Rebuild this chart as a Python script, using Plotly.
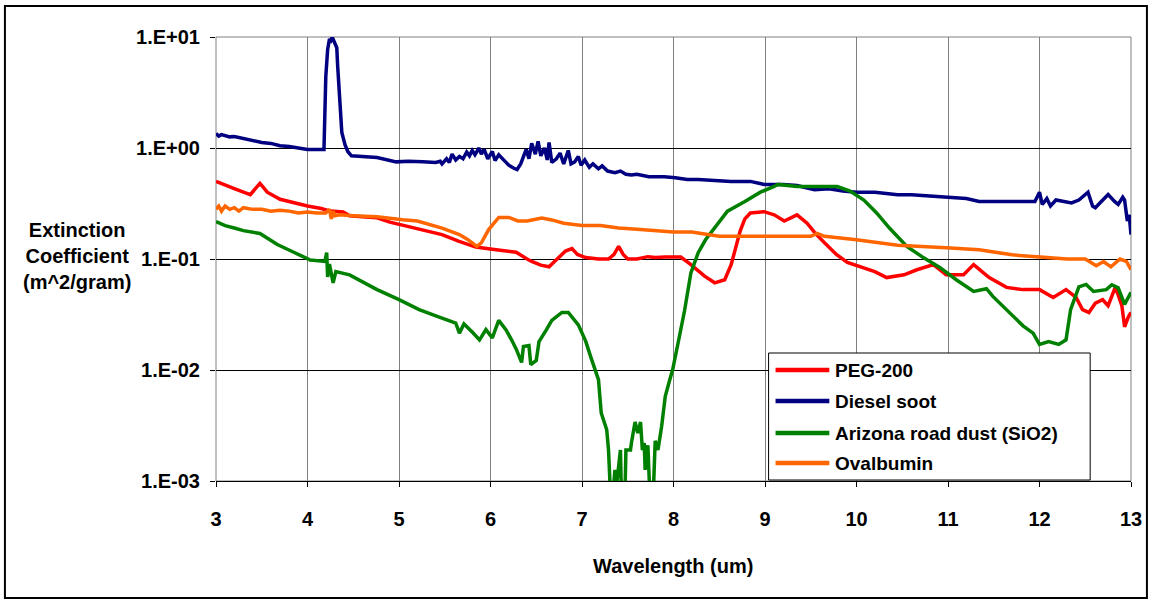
import plotly.graph_objects as go

# Extinction spectra, wavelength in um, coefficient in m^2/gram
peg_wl = [3.00, 3.10, 3.20, 3.30, 3.375, 3.43, 3.48, 3.52, 3.56, 3.70, 3.85, 4.00, 4.15, 4.25, 4.39, 4.46,
          4.60, 4.76, 4.90, 5.00, 5.11, 5.30, 5.47, 5.65, 5.84, 6.00, 6.09, 6.28, 6.40, 6.45, 6.55, 6.64,
          6.70, 6.75, 6.82, 6.89, 6.95, 7.04, 7.18, 7.29, 7.35, 7.40, 7.45, 7.50, 7.60, 7.72, 7.80, 7.91,
          8.08, 8.19, 8.34, 8.45, 8.56, 8.63, 8.68, 8.73, 8.78, 8.84, 8.99, 9.10, 9.21, 9.35, 9.46, 9.55,
          9.65, 9.78, 9.90, 10.08, 10.20, 10.33, 10.52, 10.66, 10.84, 10.98, 11.17, 11.28, 11.45, 11.64,
          11.82, 12.00, 12.15, 12.29, 12.40, 12.47, 12.54, 12.61, 12.69, 12.75, 12.83, 12.90, 12.93, 12.97,
          13.00]
peg_k = [0.50, 0.46, 0.43, 0.40, 0.38, 0.43, 0.48, 0.44, 0.40, 0.345, 0.32, 0.30, 0.285, 0.27, 0.265, 0.245,
         0.24, 0.235, 0.215, 0.205, 0.197, 0.18, 0.166, 0.145, 0.128, 0.123, 0.121, 0.115, 0.10, 0.095, 0.088, 0.085,
         0.095, 0.105, 0.118, 0.124, 0.11, 0.103, 0.10, 0.10, 0.11, 0.13, 0.11, 0.10, 0.10, 0.105, 0.103, 0.104,
         0.104, 0.089, 0.07, 0.061, 0.065, 0.089, 0.13, 0.18, 0.23, 0.26, 0.267, 0.25, 0.22, 0.25, 0.21, 0.17,
         0.14, 0.11, 0.093, 0.083, 0.077, 0.068, 0.072, 0.08, 0.089, 0.072, 0.072, 0.089, 0.068, 0.0555,
         0.053, 0.053, 0.045, 0.053, 0.045, 0.035, 0.033, 0.04, 0.043, 0.038, 0.056, 0.038, 0.0245, 0.03,
         0.033]

soot_wl = [3.00, 3.03, 3.06, 3.10, 3.15, 3.20, 3.30, 3.40, 3.50, 3.60,
           3.70, 3.80, 3.90, 4.00, 4.10, 4.18, 4.20, 4.22, 4.24, 4.255,
           4.27, 4.29, 4.32, 4.33, 4.35, 4.375, 4.41, 4.44, 4.48, 4.60,
           4.76, 4.97, 5.10, 5.26, 5.40, 5.45, 5.47, 5.52, 5.55, 5.58,
           5.62, 5.66, 5.70, 5.74, 5.77, 5.80, 5.83, 5.875, 5.90, 5.93,
           5.97, 6.02, 6.05, 6.09, 6.13, 6.20, 6.25, 6.29, 6.33, 6.36,
           6.39, 6.42, 6.45, 6.49, 6.52, 6.55, 6.59, 6.62, 6.64, 6.67,
           6.72, 6.76, 6.80, 6.85, 6.88, 6.92, 6.96, 6.99, 7.03, 7.08,
           7.12, 7.18, 7.22, 7.28, 7.36, 7.42, 7.48, 7.54, 7.60, 7.73,
           7.90, 8.02, 8.15, 8.27, 8.45, 8.63, 8.84, 8.99, 9.20, 9.35,
           9.54, 9.70, 9.85, 10.00, 10.20, 10.45, 10.60, 10.80, 10.98, 11.20,
           11.34, 11.50, 11.70, 11.89, 11.95, 12.00, 12.03, 12.08, 12.12, 12.18,
           12.26, 12.35, 12.43, 12.53, 12.58, 12.61, 12.66, 12.75, 12.82, 12.86,
           12.91, 12.93, 12.96, 12.98, 13.00]
soot_k = [1.35, 1.28, 1.32, 1.30, 1.26, 1.27, 1.22, 1.18, 1.12, 1.10,
          1.05, 1.03, 1.00, 0.97, 0.97, 0.97, 4.4, 7.7, 9.6, 9.3,
          10.0, 9.1, 8.0, 5.4, 2.7, 1.38, 1.07, 0.93, 0.85, 0.84,
          0.82, 0.75, 0.76, 0.75, 0.74, 0.76, 0.72, 0.80, 0.74, 0.88,
          0.78, 0.84, 0.80, 0.92, 0.85, 0.95, 0.87, 1.0, 0.88, 0.97,
          0.80, 0.93, 0.77, 0.87, 0.80, 0.70, 0.66, 0.64, 0.72, 0.85,
          0.97, 0.80, 1.10, 0.88, 1.15, 0.85, 1.0, 0.78, 1.12, 0.74,
          0.80, 0.90, 0.72, 0.95, 0.72, 0.75, 0.84, 0.70, 0.78, 0.67,
          0.72, 0.65, 0.69, 0.62, 0.60, 0.62, 0.58, 0.57, 0.58, 0.55,
          0.55, 0.54, 0.52, 0.52, 0.51, 0.50, 0.50, 0.47, 0.47, 0.46,
          0.42, 0.43, 0.41, 0.40, 0.40, 0.38, 0.38, 0.37, 0.36, 0.35,
          0.33, 0.33, 0.33, 0.33, 0.33, 0.40, 0.31, 0.35, 0.30, 0.34,
          0.33, 0.32, 0.34, 0.40, 0.30, 0.29, 0.32, 0.38, 0.33, 0.31,
          0.36, 0.34, 0.22, 0.25, 0.166]

dust_wl = [3.00, 3.10, 3.20, 3.30, 3.48, 3.67, 3.85, 4.03, 4.19, 4.21,
           4.22, 4.24, 4.28, 4.31, 4.46, 4.60, 4.76, 5.00, 5.22, 5.44,
           5.55, 5.62, 5.66, 5.71, 5.80, 5.88, 5.95, 6.02, 6.09, 6.17,
           6.23, 6.28, 6.34, 6.36, 6.42, 6.44, 6.50, 6.53, 6.61, 6.67,
           6.78, 6.85, 6.96, 7.04, 7.10, 7.18, 7.21, 7.27, 7.29, 7.31,
           7.34, 7.36, 7.37, 7.42, 7.43, 7.47, 7.48, 7.53, 7.54, 7.58,
           7.61, 7.64, 7.66, 7.68, 7.69, 7.72, 7.74, 7.78, 7.80, 7.83,
           7.87, 7.91, 7.96, 7.99, 8.05, 8.12, 8.19, 8.27, 8.35, 8.49,
           8.59, 8.78, 8.95, 9.10, 9.14, 9.35, 9.57, 9.79, 9.93, 10.08,
           10.22, 10.36, 10.55, 10.73, 10.91, 11.09, 11.28, 11.42, 11.49, 11.64,
           11.82, 11.93, 12.00, 12.10, 12.21, 12.29, 12.34, 12.43, 12.51, 12.59,
           12.73, 12.79, 12.86, 12.93, 13.00]
dust_k = [0.217, 0.20, 0.19, 0.18, 0.17, 0.135, 0.115, 0.098, 0.095, 0.114,
          0.069, 0.09, 0.061, 0.077, 0.072, 0.062, 0.053, 0.043, 0.035, 0.030,
          0.028, 0.0265, 0.0215, 0.026, 0.022, 0.0187, 0.0231, 0.0195, 0.028, 0.023,
          0.0187, 0.0155, 0.0117, 0.0163, 0.0166, 0.0112, 0.0122, 0.018, 0.023, 0.028,
          0.033, 0.033, 0.0255, 0.0182, 0.0128, 0.0082, 0.0041, 0.0029, 0.0019, 0.0008,
          0.0008, 0.00126, 0.0008, 0.0019, 0.0008, 0.0008, 0.0019, 0.0019, 0.0022, 0.0034,
          0.0027, 0.0034, 0.0019, 0.0022, 0.00126, 0.0021, 0.0008, 0.0008, 0.0023, 0.0019,
          0.0031, 0.0058, 0.0082, 0.010, 0.0175, 0.034, 0.075, 0.114, 0.149, 0.21,
          0.27, 0.33, 0.40, 0.45, 0.47, 0.45, 0.45, 0.45, 0.41, 0.34,
          0.26, 0.19, 0.13, 0.103, 0.084, 0.065, 0.051, 0.054, 0.046, 0.035,
          0.025, 0.0215, 0.017, 0.018, 0.017, 0.0187, 0.035, 0.056, 0.059, 0.051,
          0.053, 0.0586, 0.055, 0.039, 0.05]

oval_wl = [3.00, 3.03, 3.06, 3.10, 3.15, 3.20, 3.25, 3.30, 3.40, 3.50,
           3.60, 3.70, 3.80, 3.90, 4.00, 4.10, 4.20, 4.24, 4.26, 4.28,
           4.30, 4.35, 4.50, 4.76, 5.04, 5.20, 5.47, 5.66, 5.75, 5.85,
           5.90, 5.98, 6.09, 6.20, 6.30, 6.40, 6.56, 6.67, 6.80, 7.00,
           7.20, 7.40, 7.60, 7.80, 8.00, 8.20, 8.50, 8.80, 9.00, 9.35,
           9.50, 9.57, 9.65, 10.00, 10.45, 10.98, 11.34, 11.70, 12.06, 12.30,
           12.50, 12.62, 12.70, 12.78, 12.88, 12.95, 13.00]
oval_k = [0.28, 0.30, 0.27, 0.30, 0.28, 0.29, 0.27, 0.29, 0.28, 0.28,
          0.27, 0.275, 0.27, 0.26, 0.265, 0.26, 0.26, 0.28, 0.23, 0.27,
          0.245, 0.25, 0.245, 0.24, 0.226, 0.22, 0.19, 0.166, 0.15, 0.13,
          0.14, 0.184, 0.237, 0.237, 0.22, 0.22, 0.234, 0.225, 0.21, 0.20,
          0.20, 0.19, 0.185, 0.18, 0.175, 0.175, 0.16, 0.16, 0.16, 0.16,
          0.16, 0.17, 0.16, 0.149, 0.133, 0.126, 0.121, 0.109, 0.103, 0.10,
          0.10, 0.087, 0.095, 0.085, 0.10, 0.095, 0.08]

series_names = ["PEG-200", "Diesel soot", "Arizona road dust (SiO2)", "Ovalbumin"]
series_colors = ["#FF0000", "#000080", "#008000", "#FF6600"]
series_x = [peg_wl, soot_wl, dust_wl, oval_wl]
series_y = [peg_k, soot_k, dust_k, oval_k]

x_ticks = [3, 4, 5, 6, 7, 8, 9, 10, 11, 12, 13]
y_tickvals = [0.001, 0.01, 0.1, 1, 10]
y_ticktext = ["1.E-03", "1.E-02", "1.E-01", "1.E+00", "1.E+01"]

FONT = "Liberation Sans, Arial, sans-serif"

# Page geometry in pixels
W, H = 1154, 600
L, R, T, B = 216, 1135, 37, 481


def px(x):
    return (x - L) / (R - L)


def py(y):
    return (B - y) / (B - T)


fig = go.Figure()
for name, color, xs, ys in zip(series_names, series_colors, series_x, series_y):
    fig.add_trace(go.Scatter(x=xs, y=ys, mode="lines", name=name,
                             line=dict(color=color, width=3.5), showlegend=False))

shapes = [
    # outer frame
    dict(type="rect", xref="paper", yref="paper", x0=px(4), x1=px(1151), y0=py(598), y1=py(6),
         line=dict(color="black", width=2), layer="below"),
    # plot area border
    dict(type="rect", xref="paper", yref="paper", x0=0, x1=1, y0=0, y1=1,
         line=dict(color="#808080", width=1), layer="between"),
    # legend box
    dict(type="rect", xref="paper", yref="paper", x0=px(771), x1=px(1094), y0=py(480), y1=py(353),
         line=dict(color="black", width=1), fillcolor="white", layer="above"),
]

annotations = []
legend_rows = [370, 401, 433, 463]
for name, color, yrow in zip(series_names, series_colors, legend_rows):
    shapes.append(dict(type="line", xref="paper", yref="paper", x0=px(778), x1=px(832),
                       y0=py(yrow), y1=py(yrow), line=dict(color=color, width=4.5), layer="above"))
    annotations.append(dict(xref="paper", yref="paper", x=px(836), y=py(yrow), text=name,
                            showarrow=False, xanchor="left", yanchor="middle",
                            font=dict(family=FONT, size=19, color="black", weight="bold")))

annotations.append(dict(xref="paper", yref="paper", x=px(675), y=py(566), text="Wavelength (um)",
                        showarrow=False, xanchor="center", yanchor="middle",
                        font=dict(family=FONT, size=20, color="black", weight="bold")))
annotations.append(dict(xref="paper", yref="paper", x=px(76), y=py(256),
                        text="Extinction<br>Coefficient<br>(m^2/gram)",
                        showarrow=False, xanchor="center", yanchor="middle", align="center",
                        font=dict(family=FONT, size=20, color="black", weight="bold")))

fig.update_layout(
    width=W, height=H,
    margin=dict(l=L, r=W - R, t=T, b=H - B, pad=0),
    paper_bgcolor="white", plot_bgcolor="white",
    showlegend=False,
    shapes=shapes, annotations=annotations,
    xaxis=dict(range=[3, 13], tickvals=x_ticks, showgrid=True, gridcolor="#808080", gridwidth=1,
               zeroline=False, showline=True, linecolor="black", linewidth=1,
               ticks="outside", ticklen=5, tickcolor="black", ticklabelstandoff=15,
               tickfont=dict(family=FONT, size=20, color="black", weight="bold")),
    yaxis=dict(type="log", range=[-3, 1], tickvals=y_tickvals, ticktext=y_ticktext,
               showgrid=True, gridcolor="black", gridwidth=1, zeroline=False, showline=False,
               ticks="outside", ticklen=5, tickcolor="black", ticklabelstandoff=6,
               tickfont=dict(family=FONT, size=20, color="black", weight="bold")),
)

fig.write_html("out.html")
